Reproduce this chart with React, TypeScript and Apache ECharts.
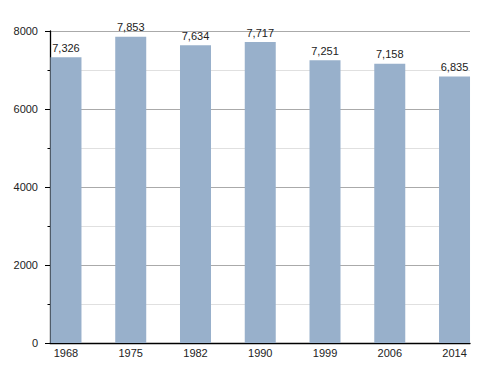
import React, { useEffect, useRef } from "react";
import * as echarts from "echarts";

const years = ["1968", "1975", "1982", "1990", "1999", "2006", "2014"];
const population = [7326, 7853, 7634, 7717, 7251, 7158, 6835];
const yMax = 8000;
const yInterval = 2000;

const FONT = "Liberation Sans, Arial, sans-serif";

export default function App() {
  const ref = useRef<HTMLDivElement>(null);
  useEffect(() => {
    if (!ref.current) return;
    const chart = echarts.init(ref.current, null, { renderer: "svg" });
    chart.setOption({
      animation: false,
      backgroundColor: "#ffffff",
      grid: [
        { left: 50, top: 31, width: 420, height: 312, containLabel: false },
        { left: 33.6, top: 31, width: 453.3, height: 312, containLabel: false },
      ],
      xAxis: [
        {
          gridIndex: 0,
          type: "value",
          min: 0,
          max: 1,
          axisLine: { show: true, onZero: false, lineStyle: { color: "#000", width: 1.3 } },
          axisTick: { show: false },
          axisLabel: { show: false },
          splitLine: { show: false },
        },
        {
          gridIndex: 1,
          type: "category",
          data: years,
          axisLine: { show: false },
          axisTick: { show: false },
          splitLine: { show: false },
          axisLabel: {
            color: "#222",
            fontFamily: FONT,
            fontSize: 11,
            margin: 4,
          },
        },
      ],
      yAxis: [
        {
          gridIndex: 0,
          type: "value",
          min: 0,
          max: yMax,
          interval: yInterval,
          axisLine: { show: true, lineStyle: { color: "#000", width: 1.3 } },
          axisTick: { show: true, length: 5, lineStyle: { color: "#000" } },
          minorTick: { show: true, splitNumber: 2, length: 2.5, lineStyle: { color: "#000" } },
          axisLabel: {
            color: "#222",
            fontFamily: FONT,
            fontSize: 11,
            margin: 12,
            formatter: (v: number) => String(v),
          },
          splitLine: { show: true, lineStyle: { color: "#aaaaaa", width: 1 } },
          minorSplitLine: { show: true, lineStyle: { color: "#e0e0e0", width: 1 } },
        },
        {
          gridIndex: 1,
          type: "value",
          min: 0,
          max: yMax,
          interval: yInterval,
          axisLine: { show: false },
          axisTick: { show: false },
          axisLabel: { show: false },
          splitLine: { show: false },
        },
      ],
      series: [
        {
          type: "bar",
          xAxisIndex: 1,
          yAxisIndex: 1,
          data: population,
          barWidth: 31,
          itemStyle: { color: "#98b0cb" },
          label: {
            show: true,
            position: "top",
            distance: 4,
            color: "#222",
            fontFamily: FONT,
            fontSize: 11,
            formatter: (p: any) => Number(p.value).toLocaleString("en-US"),
          },
        },
      ],
    });
    return () => chart.dispose();
  }, []);
  return (
    <div
      ref={ref}
      style={{ position: "fixed", left: 0, top: 0, width: 500, height: 373 }}
    />
  );
}
